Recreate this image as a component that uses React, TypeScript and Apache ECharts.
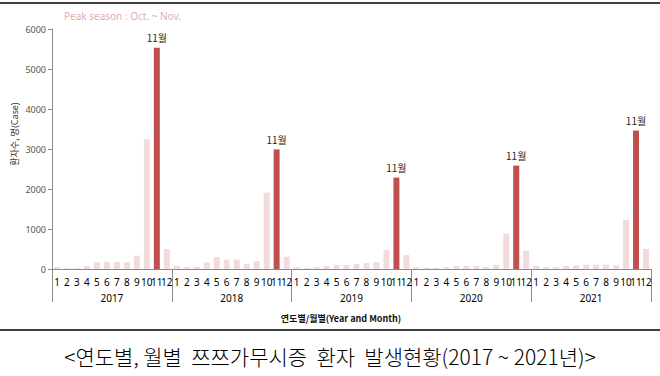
import React, { useEffect, useRef } from "react";
import * as echarts from "echarts";

const years = ["2017", "2018", "2019", "2020", "2021"];
const months = ["1", "2", "3", "4", "5", "6", "7", "8", "9", "10", "11", "12"];
const cases2017 = [50, 20, 20, 75, 170, 175, 175, 170, 335, 3245, 5530, 500];
const cases2018 = [83, 42, 55, 167, 300, 233, 233, 130, 200, 1910, 2990, 308];
const cases2019 = [42, 25, 42, 75, 100, 100, 125, 150, 175, 475, 2285, 350];
const cases2020 = [42, 33, 33, 42, 75, 75, 75, 55, 105, 890, 2585, 458];
const cases2021 = [75, 42, 42, 75, 92, 108, 108, 108, 92, 1225, 3465, 500];
const peakMonth = "11";
const peakLabel = "11월";

const LIGHT = "#f2dcdb";
const DARK = "#c0504d";

export default function App() {
  const ref = useRef<HTMLDivElement>(null);
  useEffect(() => {
    if (!ref.current) return;
    const chart = echarts.init(ref.current, null, { renderer: "svg" });
    const all = [cases2017, cases2018, cases2019, cases2020, cases2021];
    const cats: string[] = [];
    const data: any[] = [];
    all.forEach((arr) => {
      arr.forEach((v, mi) => {
        cats.push(months[mi]);
        const peak = months[mi] === peakMonth;
        data.push({
          value: v,
          itemStyle: { color: peak ? DARK : LIGHT },
          label: peak
            ? { show: true, position: "top", distance: 5, formatter: peakLabel, fontSize: 10, color: "#222", fontFamily: "Noto Sans CJK KR" }
            : { show: false },
        });
      });
    });
    chart.setOption({
      animation: false,
      backgroundColor: "#ffffff",
      grid: { left: 52, right: 9, top: 29, bottom: 107, containLabel: false },
      xAxis: [
        {
          type: "category",
          data: cats,
          axisLine: { show: true, lineStyle: { color: "#8c8c8c", width: 1 } },
          axisTick: { show: false },
          axisLabel: { interval: 0, margin: 8, fontSize: 10, color: "#000", fontFamily: "Noto Sans" },
        },
        {
          type: "category",
          data: years,
          position: "bottom",
          axisLine: { show: false },
          axisTick: { show: true, length: 33, lineStyle: { color: "#8c8c8c" } },
          axisLabel: { margin: 24, fontSize: 10, color: "#000", fontFamily: "Noto Sans" },
        },
      ],
      yAxis: {
        type: "value",
        min: 0,
        max: 6000,
        interval: 1000,
        axisLine: { show: true, lineStyle: { color: "#8c8c8c" } },
        axisTick: { show: true, length: 4, lineStyle: { color: "#8c8c8c" } },
        splitLine: { show: false },
        axisLabel: {
          margin: 6,
          fontSize: 9,
          color: "#555",
          fontFamily: "Noto Sans",
          formatter: (v: number) => String(v),
        },
      },
      series: [
        {
          type: "bar",
          xAxisIndex: 0,
          barWidth: 6,
          data,
        },
      ],
      graphic: [
        { type: "line", shape: { x1: 0, y1: 3, x2: 660, y2: 3 }, style: { stroke: "#000", lineWidth: 1.5 } },
        { type: "line", shape: { x1: 0, y1: 330, x2: 660, y2: 330 }, style: { stroke: "#000", lineWidth: 1.5 } },
        {
          type: "text",
          left: 64,
          top: 11,
          style: { text: "Peak season : Oct. ~ Nov.", fontSize: 10, fill: "#ddb0b0", fontFamily: "Noto Sans" },
        },
        {
          type: "text",
          x: 14,
          y: 134,
          rotation: Math.PI / 2,
          style: {
            text: "환자수, 명(Case)",
            fontSize: 9,
            fill: "#333",
            fontFamily: "Noto Sans CJK KR",
            align: "center",
            verticalAlign: "middle",
          },
        },
        {
          type: "text",
          x: 341,
          y: 318,
          style: {
            text: "연도별/월별(Year and Month)",
            fontSize: 9,
            fill: "#111",
            fontFamily: "Noto Sans CJK KR",
            fontWeight: "bold",
            align: "center",
            verticalAlign: "middle",
          },
        },
        {
          type: "text",
          x: 330,
          y: 356,
          style: {
            text: "<연도별, 월별  쯔쯔가무시증  환자  발생현황(2017 ~ 2021년)>",
            fontSize: 21,
            fill: "#000",
            fontFamily: "Noto Sans CJK KR",
            fontWeight: 300,
            align: "center",
            verticalAlign: "middle",
          },
        },
      ],
    });
    return () => chart.dispose();
  }, []);
  return (
    <div
      ref={ref}
      style={{ position: "fixed", left: 0, top: 0, width: 660, height: 376, background: "#fff" }}
    />
  );
}
